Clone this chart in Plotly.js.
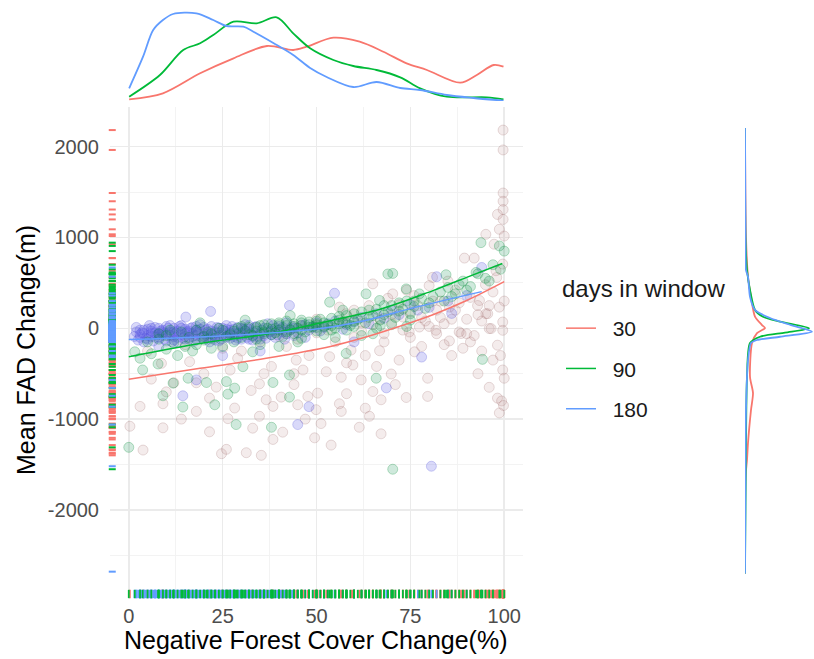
<!DOCTYPE html>
<html>
<head>
<meta charset="utf-8">
<script src="https://cdn.plot.ly/plotly-3.0.1.min.js"></script>
<style>html,body{margin:0;padding:0;background:#fff;}#chart{width:814px;height:659px;}</style>
</head>
<body>
<div id="chart"></div>
<script>
// ---- Data ----
const groups = ['30', '90', '180'];
const legendTitle = 'days in window';
const lineColors = ['#F8766D', '#00BA38', '#619CFF'];

// scatter points [x (% negative forest cover change), y (mean FAD change, m)]
const pts30 = [[0.3,-1079],[3.8,-1341],[9.1,-1096],[9.1,-831],[18,-915],[21.5,-1140],[24.7,-1381],[26,-1333],[26.4,-995],[31.3,-1370],[35.3,-1399],[34.8,-969],[38.4,-1224],[41,-1144],[32.6,-685],[36.6,-787],[38.4,-860],[40.6,-758],[45,-842],[47.7,-750],[49.9,-896],[49.5,-1206],[51.2,-1049],[53.9,-1286],[50.3,-714],[56.6,-539],[56.1,-831],[56.6,-915],[61.4,-1090],[64.1,-969],[61.9,-568],[67.2,-1162],[65,-696],[67.2,-787],[73.9,-762],[69.9,-503],[79.6,-550],[88.5,-58],[85.4,-139],[98.2,-769],[98.7,-932],[99.6,-459],[98.2,-186],[99.6,-22],[96,-3],[92.9,251],[95.1,161],[8.7,-386],[16.2,-368],[23.3,-648],[21.5,-769],[28.2,-878],[34.8,-612],[44.6,-350],[46.4,-459],[52.6,-478],[59.7,-404],[59.2,-240],[53.5,-313],[66.8,-247],[76.1,-259],[79.6,-750],[81.8,-22],[74.7,-40],
  [99.7,2183],[99.7,1964],[99.7,1490],[99.7,1399],[99.7,1308],[98.2,1254],[99.7,1199],[98.7,1090],[100,1016],[97.3,926],[95.1,1035],[89.4,773],[92,773],[99.6,707],[97.8,634],[80.9,561],[80,470],[65,489],[70.3,379],[93.4,306],[95.6,161],[98.7,233],[99.6,69],[96.5,-3],[88,-40],[85.4,233],[73,124],[77.4,14],[57.9,161],[56.1,233],[99.3,-800],[99.8,-850],
  [30,-250],[38,-420],[42,-200],[48,-300],[55,-150],[60,-100],[63,-300],[68,-150],[72,-350],[75,-100],[78,-200],[82,-60],[84,50],[86,-300],[90,100],[91,-150],[93,-500],[94,-250],[96,-650],[97,400],[87,420],[83,300],[77,250],[70,150],[62,60],[50,-50],[45,-120],[40,-90],[35,-150],[25,-220],[15,-180],[5,-250],[12,-600],[20,-500],[29,-330],[44,-620],[58,-720],[71,-620],[63,-880],[47,-1000],[33,-1100],[14,-1000],[3,-860],
  [42,-60],[46,30],[50,100],[53,-20],[57,60],[60,200],[64,250],[67,100],[69,330],[72,260],[74,420],[76,360],[79,80],[81,300],[83,120],[85,520],[87,200],[89,-220],[91,340],[92,-80],[94,80],[95,480],[97,-350],[98,560],[100,-550],[100,300],[99,-300],[66,-420],[58,-380],[44,-500],[36,-500],[27,-460],[18,-600],[10,-700],[6,-560],
  [62,-30],[65,40],[68,-60],[70,60],[73,-20],[75,180],[78,120],[80,20],[82,200],[84,-180],[86,100],[88,280],[90,-60],[93,150],[96,250]];

const pts90 = [[7.8,-393],[11.8,-604],[9.1,-743],[15.8,-550],[14.4,-867],[20.7,-597],[22.9,-842],[26.4,-725],[28.2,-659],[28.6,-1060],[26,-587],[30.4,-423],[33,-259],[38.4,-597],[42.8,-514],[42.8,-758],[38,-1090],[57.9,-277],[65.9,-550],[94.2,-342],[70.3,-1552],[0,-1311],[1.6,-259],[3.7,-459],
  [69,598],[70.3,604],[93.8,943],[98.7,907],[84.5,590],[92.5,615],[73.9,434],[63.2,379],[53.5,288],[77.4,379],[66.8,306],
  [5,-150],[8,-120],[10,-80],[12,-160],[14,-40],[16,-100],[18,-20],[20,-130],[22,-60],[24,0],[26,-90],[28,-30],[30,20],[32,-70],[34,10],[36,-40],[38,50],[40,-20],[42,30],[44,-60],[46,60],[48,10],[50,80],[52,20],[54,110],[56,50],[58,140],[60,80],[62,180],[64,120],[66,210],[68,150],[70,250],[72,190],[74,300],[76,240],[78,330],[80,280],[83,400],[86,350],[88,480],[90,420],[95,550],[97,700],[99,650],[100,850],[25,-200],[35,-180],[45,-150],[55,-100],[65,-60],[19,60],[31,90],[43,140],[57,200],[67,30],[75,90],
  [20,-90],[21,-40],[23,-110],[25,-20],[27,-70],[29,0],[30,-100],[31,-30],[33,-80],[35,30],[36,-60],[37,0],[39,-50],[40,40],[41,-90],[43,-20],[44,50],[45,0],[47,-40],[48,70],[49,20],[50,-30],[51,100],[53,40],[55,0],[56,130],[57,70],[59,30],[60,160],[61,100],[63,60],[64,200],[65,140],[67,90],[68,250],[69,180],[71,120],[72,280],[73,210],[75,160],[76,300],[79,220],[81,350],[84,300],[85,450],[87,380],[89,520],[91,460],[93,600],[96,520],[15,-200],[17,-250],[13,-300],[10,-230],[6,-280],[3,-330],[11,-20],[8,-60],[18,-180],[22,-220],[28,-150],[34,-120],[40,-200],[46,-110],[52,-70],[58,-20],[62,-80],[66,0],[70,40],[74,20],
  [32,10],[34,-30],[36,40],[38,-10],[40,60],[42,-40],[44,20],[46,-20],[48,40],[50,10],[52,60],[54,30],[56,90],[58,60],[60,20],[42,80],[46,90],[50,40],[54,-20],[38,-70]];

const pts180 = [[2,-40],[3,-20],[4,-60],[5,-10],[5,-80],[6,-30],[7,-50],[7,10],[8,-100],[9,-20],[10,-60],[10,20],[11,-40],[12,-90],[12,0],[13,-30],[14,-70],[14,30],[15,-10],[16,-120],[16,-50],[17,10],[18,-80],[18,-20],[19,40],[20,-60],[21,-10],[22,-100],[22,20],[23,-40],[24,0],[25,-70],[26,30],[27,-20],[28,-90],[29,10],[30,-50],[31,40],[32,-10],[33,-130],[34,20],[35,-60],[36,0],[37,50],[38,-30],[39,-100],[40,20],[41,-40],[42,60],[43,-10],[44,-80],[46,30],[48,-20],[50,60],[52,10],[55,80],[58,40],[62,120],[66,160],[70,200],[75,260],
  [42.8,251],[80.6,-1519],[45,-1060],[48,-863],[14.4,-743],[68.6,-656],[78,-317],[18,-568],[54.8,386],[21.8,186],[15.2,124],[94,670],[82,568],[86,164],[60,-150],[8,-200],[25,-300],[35,-250],[null,-2680],
  [1.5,-90],[2.5,-130],[3.5,-50],[4.5,-110],[5.5,30],[6.5,-140],[7.5,-70],[8.5,-30],[9.5,-120],[10.5,0],[11.5,-150],[12.5,-50],[13.5,20],[14.5,-110],[15.5,-40],[16.5,0],[17.5,-140],[18.5,-60],[19.5,-100],[20.5,-20],[21.5,-150],[22.5,-70],[23.5,10],[24.5,-120],[25.5,-30],[26.5,-80],[27.5,20],[28.5,-130],[29.5,-50],[30.5,-10],[31.5,-100],[32.5,-60],[33.5,10],[34.5,-90],[35.5,-20],[36.5,-110],[37.5,-40],[38.5,30],[39.5,-70],[40.5,-10],[41.5,-120],[43.5,20],[45,-50],[47,-100],[49,10],[3,-100],[6,0],[9,-80],[12,-130],[15,-60],[18,20],[21,-90],[24,-50],[27,-110],[30,0],[33,-40],[36,-80],[39,0],[42,-60],[2,10],[4,-150],[8,-60],[11,30],[13,-100],[17,-90],[20,10],[23,-130],[26,-10],[29,-60],[32,30],[35,-120],[38,-70],[41,10],[44,0],[47,40],[51,-30],[53,50],[57,-10],[60,70],[64,50],[68,110],[72,150],[77,200],[80,230],[85,300],[90,360],
  [3,-70],[4,-20],[5,-120],[6,-60],[7,-100],[8,0],[9,-60],[10,-140],[11,-80],[12,-40],[13,-150],[14,0],[15,-90],[16,-30],[17,-60],[18,-120],[19,-10],[20,-100],[21,-60],[22,-30],[23,-90],[24,-140],[25,0],[26,-100],[27,-50],[28,-10],[29,-110],[30,-70],[31,-20],[32,-120],[6,-90],[9,-40],[12,-70],[15,-120],[18,-40],[21,-120],[24,-80],[27,-60],[30,-120],[33,-90]];

// fitted curves
const fitX30 = [0, 19, 36.6, 54, 62, 72, 81, 90, 100];
const fitY30 = [-561, -441, -331, -197, -110, 20, 150, 306, 514];
const fitX90 = [0, 19, 38, 54, 67.6, 81, 90, 99.5];
const fitY90 = [-313, -167, -55, 87, 218, 415, 561, 714];
const fitX180 = [0, 19, 36.7, 51, 63, 76.5, 94];
const fitY180 = [-124, -95, -55, -3, 87, 233, 404];

// top marginal density of x (relative density)
const topX30 = [0.1, 9.1, 19, 27.9, 36.8, 43.8, 47.4, 54.5, 61.5, 67.8, 74, 79.4, 88.3, 92.7, 97.2, 99.8];
const topD30 = [1.7, 7.7, 27.7, 42.7, 55, 51, 54.3, 63.3, 59.3, 49.3, 37.7, 31, 18.3, 26, 36, 34.3];
const topX90 = [0.1, 8.3, 14.5, 19, 22.5, 27.9, 34.1, 39.4, 43.8, 48.3, 54.5, 59.8, 66, 72.3, 77.6, 84.7, 95.4, 99.8];
const topD90 = [4.3, 26, 51, 57.7, 66, 79.3, 77.7, 83.7, 67.7, 52.7, 41, 35, 31, 23.7, 12.7, 4.3, 3.7, 1.7];
const topX180 = [0.1, 3.8, 6.5, 9.1, 11.8, 18, 22.5, 26, 30.5, 33.2, 38.5, 43.8, 48.3, 52.7, 59.8, 66, 72.3, 77.6, 84.7, 91.8, 99.8];
const topD180 = [12.7, 44.3, 71, 81, 87, 87.7, 81, 75, 74.3, 69.3, 58, 46, 33, 24, 14, 19, 13, 11, 6, 3, 0.3];

// right marginal density of y (relative density)
const sideY30 = [2206, 1000, 568, 348, 128, 36, 3, -52, -162, -536, -713, -900, -1263, -1451, -1638, -2700];
const sideD30 = [0, 1, 3, 6, 10, 17, 20, 12, 7, 5, 8, 6, 3, 2, 0.5, 0];
const sideY90 = [2206, 1000, 642, 422, 202, 128, 73, 0, -48, -93, -162, -536, -1263, -2700];
const sideD90 = [0, 0.5, 2, 5, 10, 18, 35, 64, 40, 15, 5, 2, 1, 0];
const sideY180 = [2206, 1000, 642, 568, 348, 202, 113, 36, -37, -93, -129, -162, -349, -900, -1638, -2700];
const sideD180 = [0, 0.5, 1, 3, 5, 10, 25, 46, 67, 35, 12, 6, 3, 1, 0.5, 0];

const xTicks = [0, 25, 50, 75, 100];
const yTicks = [-2000, -1000, 0, 1000, 2000];

// ---- Build traces ----
const FONT = '"Liberation Sans", Arial, sans-serif';
const xRange = [-5, 105];
const yRange = [-2959, 2437];
const rugLeft = xRange[0] + 0.6;
const rugBottom = yRange[0] + 33;

const ptsAll = [pts30, pts90, pts180];
const fill = ['rgba(185,135,135,0.16)', 'rgba(0,140,70,0.19)', 'rgba(95,95,230,0.24)'];
const edge = ['rgba(150,95,95,0.22)', 'rgba(0,140,50,0.27)', 'rgba(85,85,220,0.28)'];
const drawOrder = [0, 2, 1]; // red, blue, green

const traces = [];
// scatter
drawOrder.forEach(i => {
  const p = ptsAll[i];
  traces.push({
    type: 'scatter', mode: 'markers', xaxis: 'x', yaxis: 'y',
    x: p.map(d => d[0]), y: p.map(d => d[1]),
    marker: {size: 10, color: fill[i], line: {color: edge[i], width: 1}},
    showlegend: false, hoverinfo: 'skip'
  });
});
// bottom rugs
drawOrder.forEach(i => {
  const p = ptsAll[i];
  traces.push({
    type: 'scatter', mode: 'markers', xaxis: 'x', yaxis: 'y',
    x: p.map(d => d[0]), y: p.map(d => d[0] === null ? null : rugBottom),
    marker: {symbol: 'line-ns', size: 6, line: {color: lineColors[i], width: 1.8}},
    showlegend: false, hoverinfo: 'skip', cliponaxis: false
  });
});
// left rugs
[0, 1, 2].forEach(i => {
  const p = ptsAll[i];
  traces.push({
    type: 'scatter', mode: 'markers', xaxis: 'x', yaxis: 'y',
    x: p.map(() => rugLeft), y: p.map(d => d[1]),
    marker: {symbol: 'line-ew', size: 5, line: {color: lineColors[i], width: 2}},
    showlegend: false, hoverinfo: 'skip', cliponaxis: false
  });
});
// fitted lines (legend)
const fits = [[fitX30, fitY30], [fitX90, fitY90], [fitX180, fitY180]];
fits.forEach((f, i) => {
  traces.push({
    type: 'scatter', mode: 'lines', xaxis: 'x', yaxis: 'y',
    x: f[0], y: f[1], name: '\u00a0\u00a0' + groups[i], legendgroup: 'g' + groups[i],
    line: {color: lineColors[i], width: 1.5, shape: 'spline'},
    hoverinfo: 'skip'
  });
});
// top densities
const tops = [[topX30, topD30], [topX90, topD90], [topX180, topD180]];
tops.forEach((t, i) => {
  traces.push({
    type: 'scatter', mode: 'lines', xaxis: 'x2', yaxis: 'y2',
    x: t[0], y: t[1], line: {color: lineColors[i], width: 1.8, shape: 'spline', smoothing: 0.9},
    showlegend: false, hoverinfo: 'skip'
  });
});
// side densities
const sides = [[sideY30, sideD30], [sideY90, sideD90], [sideY180, sideD180]];
sides.forEach((s, i) => {
  traces.push({
    type: 'scatter', mode: 'lines', xaxis: 'x3', yaxis: 'y3',
    x: s[1], y: s[0], line: {color: lineColors[i], width: 1.8, shape: 'spline', smoothing: 0.7},
    showlegend: false, hoverinfo: 'skip'
  });
});

const W = 814, H = 659;
const xDom = [110 / W, 523 / W];
const yDom = [1 - 597 / H, 1 - 107 / H];
const tickFont = {family: FONT, size: 20, color: '#4d4d4d'};

const layout = {
  width: W, height: H,
  margin: {l: 0, r: 0, t: 0, b: 0},
  paper_bgcolor: '#ffffff', plot_bgcolor: 'rgba(0,0,0,0)',
  font: {family: FONT, color: '#000'},
  xaxis: {
    domain: xDom, range: xRange, anchor: 'y',
    tickmode: 'array', tickvals: xTicks, ticktext: xTicks.map(String),
    showgrid: true, gridcolor: '#ebebeb', gridwidth: 1.5,
    minor: {tickmode: 'array', tickvals: [12.5, 37.5, 62.5, 87.5], showgrid: true, gridcolor: '#f2f2f2', gridwidth: 0.9},
    zeroline: false, showline: false, ticks: '', tickfont: tickFont, ticklabelstandoff: 5
  },
  yaxis: {
    domain: yDom, range: yRange, anchor: 'x',
    tickmode: 'array', tickvals: yTicks, ticktext: yTicks.map(String),
    showgrid: true, gridcolor: '#ebebeb', gridwidth: 1.5,
    minor: {tickmode: 'array', tickvals: [-2500, -1500, -500, 500, 1500], showgrid: true, gridcolor: '#f2f2f2', gridwidth: 0.9},
    zeroline: false, showline: false, ticks: '', tickfont: tickFont, ticklabelstandoff: 10
  },
  xaxis2: {domain: xDom, range: xRange, anchor: 'y2', visible: false},
  yaxis2: {domain: [1 - 101 / H, 1], range: [0, 101], anchor: 'x2', visible: false},
  xaxis3: {domain: [745 / W, 1], range: [0, 69], anchor: 'y3', visible: false},
  yaxis3: {domain: yDom, range: yRange, anchor: 'x3', visible: false},
  showlegend: true,
  legend: {
    x: 561 / W, y: 1 - 308 / H, xanchor: 'left', yanchor: 'top',
    font: {family: FONT, size: 21, color: '#1a1a1a'},
    traceorder: 'grouped', tracegroupgap: 10, itemwidth: 30, bgcolor: 'rgba(0,0,0,0)'
  },
  annotations: [
    {text: legendTitle, xref: 'paper', yref: 'paper', x: 560 / W, y: 1 - 288 / H,
     xanchor: 'left', yanchor: 'middle', showarrow: false,
     font: {family: FONT, size: 24, color: '#1a1a1a'}},
    {text: 'Mean FAD Change(m)', xref: 'paper', yref: 'paper', x: 26 / W, y: 1 - 350 / H,
     xanchor: 'center', yanchor: 'middle', textangle: -90, showarrow: false,
     font: {family: FONT, size: 25, color: '#000'}},
    {text: 'Negative Forest Cover Change(%)', xref: 'paper', yref: 'paper', x: 316 / W, y: 1 - 640 / H,
     xanchor: 'center', yanchor: 'middle', showarrow: false,
     font: {family: FONT, size: 25, color: '#000'}}
  ]
};

Plotly.newPlot('chart', traces, layout, {displayModeBar: false, staticPlot: true});
</script>
</body>
</html>
